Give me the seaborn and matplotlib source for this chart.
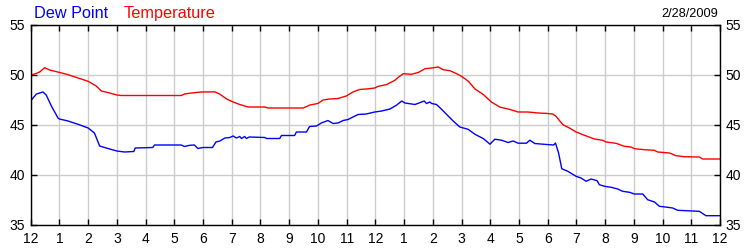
import matplotlib
matplotlib.use("Agg")
import matplotlib.pyplot as plt
import seaborn as sns
import pandas as pd

# hours since midnight
temp_hours = [0.0, 0.14, 0.31, 0.49, 0.66, 1.0, 1.30, 1.65, 2.0, 2.28, 2.46, 2.75, 3.0, 3.15,
              5.24, 5.36, 5.59, 5.94, 6.41, 6.58, 6.82, 7.05, 7.28, 7.57, 8.15, 8.27, 9.49, 9.72,
              10.0, 10.18, 10.41, 10.70, 10.99, 11.22, 11.45, 11.69, 11.98, 12.1, 12.39, 12.68,
              12.80, 12.97, 13.26, 13.50, 13.73, 13.96, 14.19, 14.36, 14.60, 14.83, 15.0, 15.24,
              15.47, 15.76, 16.04, 16.33, 16.68, 16.97, 17.32, 17.67, 17.96, 18.18, 18.29, 18.53,
              18.76, 18.99, 19.28, 19.63, 19.92, 20.03, 20.38, 20.67, 20.90, 21.02, 21.37, 21.71,
              21.83, 22.24, 22.47, 22.76, 23.28, 23.40, 24.0]
temperature = [50.0, 50.1, 50.3, 50.73, 50.5, 50.26, 50.03, 49.7, 49.37, 48.9, 48.4, 48.2, 48.0, 47.95,
               47.95, 48.1, 48.2, 48.3, 48.31, 48.1, 47.6, 47.3, 47.05, 46.8, 46.8, 46.7, 46.7, 47.0,
               47.15, 47.5, 47.6, 47.65, 47.9, 48.3, 48.55, 48.6, 48.7, 48.87, 49.04, 49.47,
               49.77, 50.13, 50.07, 50.26, 50.63, 50.7, 50.8, 50.53, 50.43, 50.13, 49.87, 49.37,
               48.6, 48.05, 47.3, 46.8, 46.56, 46.3, 46.3, 46.2, 46.16, 46.1, 45.87, 45.03,
               44.7, 44.3, 43.97, 43.6, 43.47, 43.3, 43.17, 42.87, 42.8, 42.63, 42.53, 42.47,
               42.3, 42.2, 41.93, 41.83, 41.8, 41.6, 41.6]

dew_hours = [0.0, 0.08, 0.20, 0.43, 0.54, 0.72, 0.95, 1.0, 1.30, 1.65, 2.0, 2.22, 2.40, 2.69, 3.0,
             3.27, 3.59, 3.64, 4.25, 4.31, 5.24, 5.36, 5.53, 5.70, 5.82, 6.0, 6.33, 6.45, 6.59,
             6.76, 6.93, 7.05, 7.16, 7.28, 7.34, 7.45, 7.51, 7.61, 8.15, 8.21, 8.67, 8.73, 9.19,
             9.25, 9.60, 9.71, 9.95, 10.12, 10.35, 10.53, 10.70, 10.88, 11.05, 11.22, 11.40,
             11.68, 11.98, 12.22, 12.51, 12.74, 12.92, 13.03, 13.38, 13.61, 13.70, 13.78, 13.90,
             13.96, 14.13, 14.31, 14.48, 14.71, 14.94, 15.23, 15.47, 15.76, 15.99, 16.16, 16.39,
             16.62, 16.80, 16.97, 17.26, 17.38, 17.55, 17.96, 18.21, 18.27, 18.38, 18.49, 18.70,
             18.99, 19.16, 19.34, 19.51, 19.72, 19.80, 19.98, 20.21, 20.44, 20.61, 20.85, 21.02,
             21.31, 21.48, 21.72, 21.89, 22.18, 22.35, 22.53, 22.82, 23.28, 23.51, 24.0]
dew_point = [47.4, 47.7, 48.1, 48.3, 48.0, 46.9, 45.7, 45.6, 45.4, 45.07, 44.7, 44.2, 42.9, 42.65, 42.4,
             42.3, 42.35, 42.7, 42.75, 43.0, 43.0, 42.85, 42.97, 43.0, 42.65, 42.75, 42.75, 43.3, 43.4,
             43.7, 43.75, 43.9, 43.7, 43.85, 43.65, 43.85, 43.65, 43.8, 43.75, 43.65, 43.65, 43.95, 43.95,
             44.3, 44.3, 44.85, 44.9, 45.2, 45.45, 45.15, 45.2, 45.45, 45.55, 45.8, 46.05,
             46.1, 46.3, 46.4, 46.6, 46.99, 47.4, 47.2, 47.05, 47.3, 47.4, 47.15, 47.3,
             47.15, 47.05, 46.56, 46.06, 45.4, 44.8, 44.57, 44.07, 43.64, 43.08, 43.58, 43.48,
             43.25, 43.4, 43.18, 43.18, 43.48, 43.15, 43.05, 43.0, 43.2, 42.2, 40.63, 40.37,
             39.87, 39.7, 39.37, 39.6, 39.43, 39.03, 38.87, 38.77, 38.6, 38.37, 38.27, 38.1,
             38.1, 37.53, 37.3, 36.87, 36.77, 36.7, 36.47, 36.43, 36.37, 35.93, 35.93]

x_ticks = list(range(25))
x_labels = ["12", "1", "2", "3", "4", "5", "6", "7", "8", "9", "10", "11",
            "12", "1", "2", "3", "4", "5", "6", "7", "8", "9", "10", "11", "12"]
y_ticks = [35, 40, 45, 50, 55]
date_label = "2/28/2009"

sns.set_theme(style="white")
plt.rcParams["font.family"] = ["Liberation Sans", "DejaVu Sans"]

W, H = 750, 250
fig = plt.figure(figsize=(7.5, 2.5), dpi=100)
left, right, top, bottom = 30.7, 720.0, 25.0, 225.0
ax = fig.add_axes([left / W, 1 - bottom / H, (right - left) / W, (bottom - top) / H])

df_t = pd.DataFrame({"hour": temp_hours, "value": temperature})
df_d = pd.DataFrame({"hour": dew_hours, "value": dew_point})
sns.lineplot(data=df_d, x="hour", y="value", ax=ax, color="#0000ff", linewidth=1.0)
sns.lineplot(data=df_t, x="hour", y="value", ax=ax, color="#ff0000", linewidth=1.0)

ax.set_xlim(0, 24)
ax.set_ylim(35, 55)
ax.set_xticks(x_ticks)
ax.set_xticklabels(x_labels)
ax.set_yticks(y_ticks)
ax.set_xlabel("")
ax.set_ylabel("")
ax.grid(True, color="#cccccc", linewidth=1.0)
ax.set_axisbelow(True)
for s in ax.spines.values():
    s.set_color("black")
    s.set_linewidth(1.0)
    s.set_visible(True)
ax.tick_params(axis="both", which="both", direction="in", length=4, width=1, color="black",
               labelsize=10, labelcolor="black", top=True, right=True, bottom=True, left=True,
               labelright=True, labelleft=True)
ax.tick_params(axis="x", pad=5)
ax.tick_params(axis="y", pad=4)

fig.text(33.5 / W, 1 - 18 / H, "Dew Point", color="#0000ff", fontsize=11.7, va="baseline", ha="left")
fig.text(124 / W, 1 - 18 / H, "Temperature", color="#ff0000", fontsize=11.7, va="baseline", ha="left")
fig.text(718 / W, 1 - 17 / H, date_label, color="black", fontsize=9.2, va="baseline", ha="right")

fig.savefig("out.png", dpi=100)
